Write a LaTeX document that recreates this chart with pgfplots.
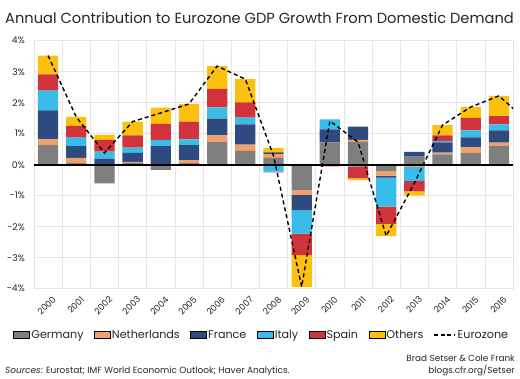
\documentclass[border=0pt]{standalone}
\usepackage{pgfplots}
\usepackage{pgfplotstable}
\pgfplotsset{compat=1.18}
\usepackage{fontspec}
\setmainfont{Poppins}
\definecolor{cG}{HTML}{7F7F7F}
\definecolor{cN}{HTML}{F2A06A}
\definecolor{cF}{HTML}{2E4A7E}
\definecolor{cI}{HTML}{38BDEB}
\definecolor{cS}{HTML}{D0333C}
\definecolor{cO}{HTML}{FCC10F}
\definecolor{gridc}{HTML}{E6E6E6}

\pgfplotstableread{
x G N F I S O
0 0.63 0.19 0.93 0.64 0.52 0.61
1 0.05 0.17 0.38 0.27 0.38 0.29
2 -0.60 0.00 0.20 0.22 0.38 0.16
3 0.05 0.04 0.29 0.17 0.40 0.44
4 -0.17 0.00 0.60 0.20 0.52 0.52
5 0.05 0.10 0.48 0.19 0.57 0.57
6 0.73 0.22 0.54 0.36 0.60 0.73
7 0.45 0.20 0.65 0.22 0.49 0.75
8 0.22 0.12 0.06 -0.22 -0.03 0.14
9 -0.82 -0.15 -0.50 -0.75 -0.70 -1.02
10 0.72 0.00 0.42 0.32 -0.05 0.00
11 0.74 0.06 0.43 -0.05 -0.39 -0.06
12 -0.20 -0.15 -0.07 -0.93 -0.56 -0.39
13 0.26 -0.07 0.15 -0.45 -0.34 -0.14
14 0.33 0.06 0.33 0.05 0.18 0.33
15 0.37 0.19 0.32 0.23 0.40 0.35
16 0.61 0.10 0.40 0.19 0.27 0.65
}\bars

\pgfplotstableread{
x E
0 3.52
1 1.54
2 0.38
3 1.39
4 1.67
5 1.96
6 3.18
7 2.76
8 0.29
9 -3.94
10 1.41
11 0.73
12 -2.30
13 -0.59
14 1.28
15 1.86
16 2.22
17 1.42
}\euro

\pgfplotsset{
  common/.style={
    at={(0bp,0bp)}, anchor=south west, scale only axis,
    width=479bp, height=248bp,
    xmin=-0.5, xmax=16.5, ymin=-4, ymax=4,
  },
  barbox/.style={legend image code/.code={\fill[##1] (0bp,-3.4bp) rectangle (16bp,3.4bp);}},
}

\begin{document}
\begin{tikzpicture}
\useasboundingbox (-34bp,-90.3bp) rectangle (486bp,288.7bp);
\begin{axis}[common,
  ybar stacked, stack negative=separate, bar width=0.72,
  xtick={0,...,16},
  xticklabels={2000,2001,2002,2003,2004,2005,2006,2007,2008,2009,2010,2011,2012,2013,2014,2015,2016},
  minor xtick={-0.5,0.5,...,16.5},
  xminorgrids, ymajorgrids,
  ytick={-4,-3,-2,-1,0,1,2,3,4},
  yticklabels={-4\%,-3\%,-2\%,-1\%,0\%,1\%,2\%,3\%,4\%},
  major tick length=0pt, minor tick length=0pt,
  grid style={gridc, line width=0.6bp},
  minor grid style={gridc, line width=0.6bp},
  axis line style={gridc, line width=0.6bp},
  yticklabel style={font=\fontsize{9.3}{10}\selectfont, inner sep=0pt, xshift=-9bp, text=black!85},
  xticklabel style={font=\fontsize{8.8}{10}\selectfont, rotate=45, anchor=east, inner sep=0pt, xshift=-2bp, yshift=-11bp, text=black!85},
  legend style={at={(0.475,-0.187)}, anchor=center, draw=none, fill=none,
    legend columns=7, font=\fontsize{11.2}{12}\selectfont,
    /tikz/every even column/.append style={column sep=9bp},
    legend cell align=left, inner sep=0pt,
    nodes={inner sep=1.5bp, text=black!85}},
]
\addplot[forget plot, fill=cG, draw=none] table[x=x, y=G] {\bars};
\addplot[forget plot, fill=cN, draw=none] table[x=x, y=N] {\bars};
\addplot[forget plot, fill=cF, draw=none] table[x=x, y=F] {\bars};
\addplot[forget plot, fill=cI, draw=none] table[x=x, y=I] {\bars};
\addplot[forget plot, fill=cS, draw=none] table[x=x, y=S] {\bars};
\addplot[forget plot, fill=cO, draw=none] table[x=x, y=O] {\bars};
\addlegendimage{barbox, fill=cG}\addlegendentry{Germany}
\addlegendimage{barbox, fill=cN}\addlegendentry{Netherlands}
\addlegendimage{barbox, fill=cF}\addlegendentry{France}
\addlegendimage{barbox, fill=cI}\addlegendentry{Italy}
\addlegendimage{barbox, fill=cS}\addlegendentry{Spain}
\addlegendimage{barbox, fill=cO}\addlegendentry{Others}
\addlegendimage{legend image code/.code={\draw[black, line width=1.3bp, dash pattern=on 4bp off 2.5bp] (0bp,0bp) -- (21bp,0bp);}}\addlegendentry{Eurozone}
\end{axis}
\begin{axis}[common, axis lines=none, clip=true]
\addplot[black, line width=1.8bp] coordinates {(-0.5,0) (16.5,0)};
\addplot[black, line width=1.4bp, dash pattern=on 4bp off 3bp] table[x=x, y=E] {\euro};
\end{axis}
\node[anchor=base west, inner sep=0pt, font=\fontsize{14.7}{16}\selectfont, text=black!85] at (-29bp,264.7bp) {Annual Contribution to Eurozone GDP Growth From Domestic Demand};
\node[anchor=base west, inner sep=0pt, font=\fontsize{9}{10}\selectfont, text=black!85] at (-29bp,-84.3bp) {\textit{Sources}: Eurostat; IMF World Economic Outlook; Haver Analytics.};
\node[anchor=base east, inner sep=0pt, font=\fontsize{8.9}{10}\selectfont, text=black!85] at (481bp,-72.3bp) {Brad Setser \& Cole Frank};
\node[anchor=base east, inner sep=0pt, font=\fontsize{8.9}{10}\selectfont, text=black!85] at (481bp,-84.3bp) {blogs.cfr.org/Setser};
\end{tikzpicture}
\end{document}
